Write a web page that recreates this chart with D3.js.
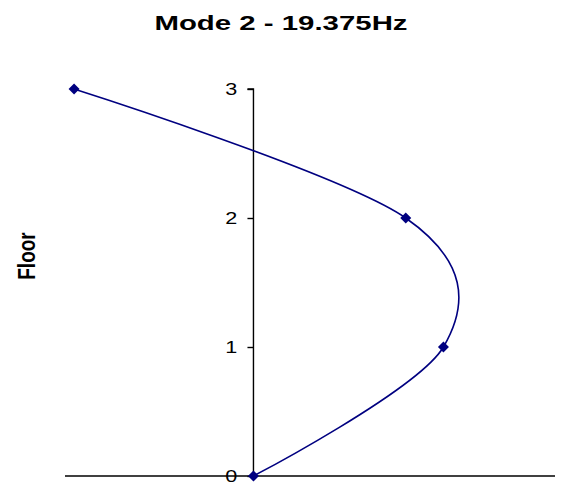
<!DOCTYPE html>
<html>
<head>
<meta charset="utf-8">
<script src="https://cdn.jsdelivr.net/npm/d3@7"></script>
<style>
  body { margin: 0; background: #fff; }
  text { font-family: "Liberation Sans", Arial, sans-serif; }
</style>
</head>
<body>
<div id="chart"></div>
<script>
// Mode shape values (displacement per floor)
const floors = [0, 1, 2, 3];
const displacement = [0, 1.26, 1.01, -1.19];
const yTicks = [0, 1, 2, 3];

const width = 571, height = 482;
const data = floors.map((f, i) => ({ floor: f, d: displacement[i] }));

const svg = d3.select("#chart").append("svg")
    .attr("width", width)
    .attr("height", height);

const x = d3.scaleLinear()
    .domain([-1.25, 2])
    .range([65, 555]);

const y = d3.scaleLinear()
    .domain([0, 3])
    .range([476, 89]);

// x axis line (no ticks)
svg.append("line")
    .attr("x1", x.range()[0])
    .attr("x2", x.range()[1])
    .attr("y1", y(0)).attr("y2", y(0))
    .attr("stroke", "#000")
    .attr("stroke-width", 1.4);

// y axis at x = 0
const yAxis = svg.append("g")
    .attr("transform", "translate(" + x(0) + ",0)")
    .call(d3.axisLeft(y).tickValues(yTicks).tickFormat(d3.format("d")).tickSize(6).tickPadding(6));
yAxis.select(".domain").attr("d", "M-6," + y(3) + "H0V" + y(0)).attr("stroke-width", 1.4);
yAxis.selectAll(".tick line").attr("stroke-width", 1.4);
yAxis.selectAll(".tick text")
    .attr("transform", "scale(1.35,1)")
    .style("font-size", "16px")
    .attr("fill", "#000")
    .attr("font-family", "Liberation Sans, Arial, sans-serif");

// smoothed line
const line = d3.line()
    .x(d => x(d.d))
    .y(d => y(d.floor))
    .curve(d3.curveCardinal.tension(0));

svg.append("path")
    .datum(data)
    .attr("fill", "none")
    .attr("stroke", "#000080")
    .attr("stroke-width", 1.6)
    .attr("d", line);

// diamond markers
svg.selectAll(".dot")
    .data(data)
    .enter().append("path")
    .attr("class", "dot")
    .attr("transform", d => "translate(" + x(d.d) + "," + y(d.floor) + ")")
    .attr("d", "M0,-5.5L5.5,0L0,5.5L-5.5,0Z")
    .attr("fill", "#000080");

// title
svg.append("text")
    .attr("transform", "translate(281,30) scale(1.4,1)")
    .attr("text-anchor", "middle")
    .style("font-size", "21px")
    .style("font-weight", "bold")
    .text("Mode 2 - 19.375Hz");

// y label
svg.append("text")
    .attr("transform", "translate(35,256) scale(1.3,1) rotate(-90)")
    .attr("text-anchor", "middle")
    .style("font-size", "19px")
    .style("font-weight", "bold")
    .text("Floor");
</script>
</body>
</html>
